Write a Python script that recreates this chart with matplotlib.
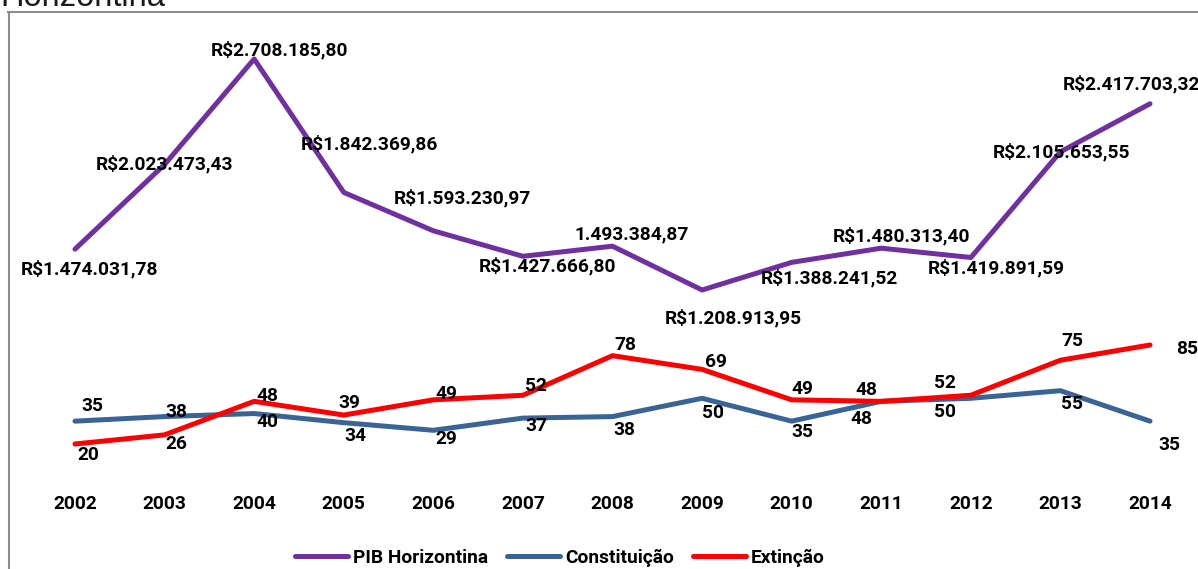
import matplotlib.pyplot as plt
from matplotlib.lines import Line2D

years = ['2002', '2003', '2004', '2005', '2006', '2007', '2008',
         '2009', '2010', '2011', '2012', '2013', '2014']
pib = [1474031.78, 2023473.43, 2708185.80, 1842369.86, 1593230.97, 1427666.80,
       1493384.87, 1208913.95, 1388241.52, 1480313.40, 1419891.59, 2105653.55,
       2417703.32]
constituicao = [35, 38, 40, 34, 29, 37, 38, 50, 35, 48, 50, 55, 35]
extincao = [20, 26, 48, 39, 49, 52, 78, 69, 49, 48, 52, 75, 85]

def brl(v, prefix=True):
    s = '{:,.2f}'.format(v).replace(',', 'X').replace('.', ',').replace('X', '.')
    return ('R$' + s) if prefix else s

# label offsets in pixels (dx, dy)
pib_off = [(15, -20), (0, 0), (25, 9), (26, 48), (29, 33), (25, -10), (19, 12),
           (31, -28), (38, -16), (20, 12), (25, -11), (1, 0), (-19, 20)]
con_off = [(17, 15), (12, 5), (13, -8), (12, -13), (13, -9), (13, -8), (12, -13),
           (11, -15), (11, -11), (-20, -18), (-26, -14), (12, -13), (19, -24)]
ext_off = [(13, -11), (12, -9), (13, 5), (6, 12), (13, 6), (13, 9), (13, 11),
           (14, 7), (11, 11), (-15, 11), (-26, 12), (12, 19), (37, -4)]

plt.rcParams['font.family'] = ['Roboto', 'DejaVu Sans']
plt.rcParams['font.weight'] = 'bold'
fs = 13.8

W, H = 1198, 569
fig = plt.figure(figsize=(W / 100, H / 100), dpi=100)
ax = fig.add_axes([30.2 / W, (H - 470) / H, 1164.6 / W, 440 / H])
ax2 = ax.twinx()

x = list(range(len(years)))
l2, = ax.plot(x, constituicao, color='#3A6496', lw=3.6, solid_capstyle='round',
              label='Constituição')
l3, = ax.plot(x, extincao, color='#FF0000', lw=3.6, solid_capstyle='round',
              label='Extinção')
l1, = ax2.plot(x, pib, color='#7030A0', lw=3.6, solid_capstyle='round',
               label='PIB Horizontina')

for i in x:
    ax2.annotate(brl(pib[i], prefix=(years[i] != '2008')), (i, pib[i]),
                 xytext=pib_off[i], textcoords='offset pixels',
                 ha='center', va='center', fontsize=fs, fontweight='bold')
    ax.annotate(str(constituicao[i]), (i, constituicao[i]), xytext=con_off[i],
                textcoords='offset pixels', ha='center', va='center',
                fontsize=fs, fontweight='bold')
    ax.annotate(str(extincao[i]), (i, extincao[i]), xytext=ext_off[i],
                textcoords='offset pixels', ha='center', va='center',
                fontsize=fs, fontweight='bold')

ax.set_xlim(-0.5, 12.5)
ax.set_ylim(2.93, 291.8)
ax2.set_ylim(40690, 2896349)
ax.set_xticks(x, years, fontsize=fs, fontweight='bold')
ax.tick_params(axis='x', length=0, pad=18)
ax.set_yticks([])
ax2.set_yticks([])
for a in (ax, ax2):
    for s in a.spines.values():
        s.set_visible(False)
    a.patch.set_visible(False)

fig.legend(handles=[l1, l2, l3], loc='center',
           bbox_to_anchor=(560 / W, 1 - 558 / H), ncol=3, frameon=False,
           handlelength=2.76, handletextpad=0.26, columnspacing=1.0,
           prop={'weight': 'bold', 'size': fs})

# chart frame
fig.add_artist(Line2D([8.5 / W, 8.5 / W], [0, 1 - 12 / H], color='#8C8C8C', lw=1.5))
fig.add_artist(Line2D([8 / W, 1], [1 - 12 / H, 1 - 12 / H], color='#8C8C8C', lw=1.5))

fig.text(0, 1 - 6 / H, 'Horizontina', fontsize=23.5, fontweight='normal',
         family='Liberation Sans', color='#1A1A1A', ha='left', va='baseline')

fig.savefig('out.png', dpi=100)
